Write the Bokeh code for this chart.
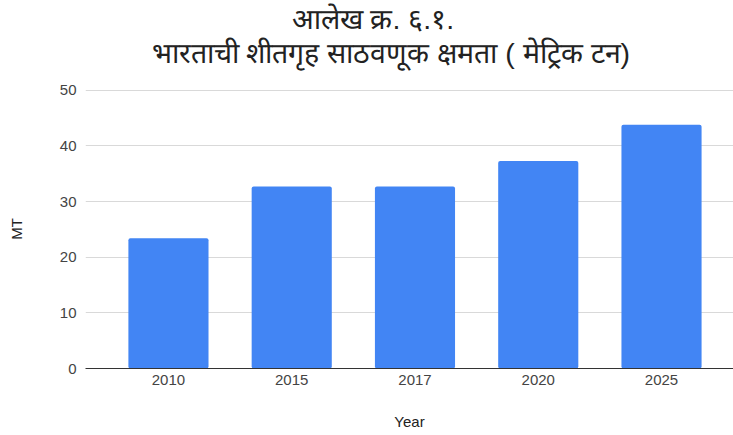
from bokeh.plotting import figure
from bokeh.models import Range1d, FixedTicker, Title, ColumnDataSource
from bokeh.embed import file_html
from bokeh.resources import INLINE

# Data
years = ["2010", "2015", "2017", "2020", "2025"]
capacity_mt = [23.4, 32.7, 32.7, 37.3, 43.8]
y_ticks = [0, 10, 20, 30, 40, 50]

title_line1 = "आलेख क्र. ६.१."
title_line2 = "भारताची शीतगृह साठवणूक क्षमता ( मेट्रिक टन)"
x_label = "Year"
y_label = "MT"

positions = list(range(len(years)))
src = ColumnDataSource(dict(x=positions, top=capacity_mt, year=years))

p = figure(width=733, height=435, output_backend="svg", toolbar_location=None,
           x_range=Range1d(-0.673, 4.584), y_range=Range1d(0, 50.15),
           min_border_left=85, min_border_right=0, min_border_top=88, min_border_bottom=67)

# title: outermost line (p.title), second line and a spacer nearest the frame
p.title = Title(text=title_line1, align="left", offset=206, standoff=0,
                text_font="Liberation Sans", text_font_size="28.5px",
                text_font_style="normal", text_color="#222222")
p.add_layout(Title(text=" ", align="left", standoff=18, text_font="Liberation Sans",
                   text_font_size="1px"), "above")
p.add_layout(Title(text=title_line2, align="left", offset=66, standoff=0,
                   text_font="Liberation Sans", text_font_size="28.5px",
                   text_font_style="normal", text_color="#222222"), "above")

p.vbar(x="x", top="top", width=0.65, source=src, color="#4285F4", line_color=None,
       border_radius=2)

p.outline_line_color = None
p.background_fill_color = "white"
p.border_fill_color = "white"

# x axis
p.xaxis.ticker = FixedTicker(ticks=positions)
p.xaxis.major_label_overrides = {i: y for i, y in zip(positions, years)}
p.xaxis.major_tick_line_color = None
p.xaxis.major_tick_out = 0
p.xaxis.major_tick_in = 0
p.xaxis.minor_tick_line_color = None
p.xaxis.axis_line_color = "#333333"
p.xaxis.axis_line_width = 1
p.xaxis.major_label_text_font = "Liberation Sans"
p.xaxis.major_label_text_font_size = "15px"
p.xaxis.major_label_text_color = "#444444"
p.xaxis.major_label_standoff = 6
p.xaxis.axis_label = x_label
p.xaxis.axis_label_text_font = "Liberation Sans"
p.xaxis.axis_label_text_font_size = "15px"
p.xaxis.axis_label_text_font_style = "normal"
p.xaxis.axis_label_text_color = "#222222"
p.xaxis.axis_label_standoff = 25
p.xgrid.grid_line_color = None

# y axis
p.yaxis.ticker = FixedTicker(ticks=y_ticks)
p.yaxis.major_tick_line_color = None
p.yaxis.major_tick_out = 0
p.yaxis.major_tick_in = 0
p.yaxis.minor_tick_line_color = None
p.yaxis.axis_line_color = None
p.yaxis.major_label_text_font = "Liberation Sans"
p.yaxis.major_label_text_font_size = "15px"
p.yaxis.major_label_text_color = "#444444"
p.yaxis.major_label_standoff = 9
p.yaxis.axis_label = y_label
p.yaxis.axis_label_text_font = "Liberation Sans"
p.yaxis.axis_label_text_font_size = "15px"
p.yaxis.axis_label_text_font_style = "normal"
p.yaxis.axis_label_text_color = "#222222"
p.yaxis.axis_label_standoff = 32
p.ygrid.ticker = FixedTicker(ticks=y_ticks)
p.ygrid.grid_line_color = "#d9d9d9"
p.ygrid.grid_line_width = 1

open("out.html", "w").write(file_html(p, INLINE))
